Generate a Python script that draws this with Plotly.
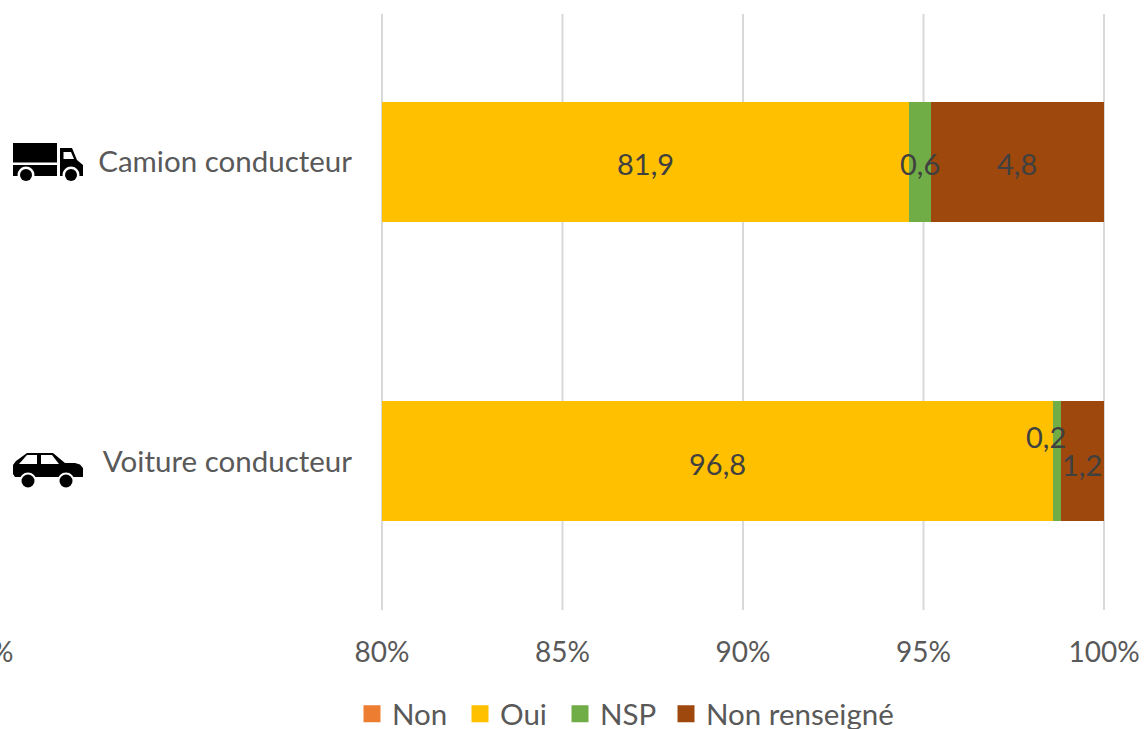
import plotly.graph_objects as go

WIDTH, HEIGHT = 1146, 729
LEFT, RIGHT, TOP, BOTTOM = 382, 1104, 12, 611
FONT = "Lato"
TEXT = "#595959"
VALUE_TEXT = "#404040"
GRID = "#D9D9D9"

categories = ["Voiture conducteur", "Camion conducteur"]
series_names = ["Non", "Oui", "NSP", "Non renseigné"]
series_colors = ["#ED7D31", "#FFC000", "#70AD47", "#9E480E"]
legend_widths = [63, 55, 61, 195]
non_values = [1.8, 12.7]
oui_values = [96.8, 81.9]
nsp_values = [0.2, 0.6]
renseigne_values = [1.2, 4.8]
all_series = [non_values, oui_values, nsp_values, renseigne_values]
x_ticks = [80, 85, 90, 95, 100]
x_tick_labels = ["80%", "85%", "90%", "95%", "100%"]
AXIS_MIN, AXIS_MAX = 80, 100

# Label nudges in pixels, keyed by (series, category): some labels sit off-centre.
label_nudges = {(2, 0): (-11, 27), (3, 0): (0, -1)}


def px(x):
    return (x - LEFT) / (RIGHT - LEFT)


def py(y):
    return (BOTTOM - y) / (BOTTOM - TOP)


def poly(points, color):
    d = "M" + " L".join(f"{px(a):.5f},{py(b):.5f}" for a, b in points) + " Z"
    return dict(type="path", xref="paper", yref="paper", path=d,
                fillcolor=color, line_width=0, layer="above")


def disc(cx, cy, r, color):
    return dict(type="circle", xref="paper", yref="paper",
                x0=px(cx - r), x1=px(cx + r), y0=py(cy + r), y1=py(cy - r),
                fillcolor=color, line_width=0, layer="above")


fig = go.Figure()
for name, color, values in zip(series_names, series_colors, all_series):
    fig.add_trace(go.Bar(name=name, y=categories, x=values, orientation="h",
                         showlegend=False, marker=dict(color=color, line_width=0)))

# Empty companions carry the legend entries, with a stroke that makes the swatches larger.
for name, color, entry_width in zip(series_names, series_colors, legend_widths):
    fig.add_trace(go.Bar(name=name, y=categories, x=[None, None], orientation="h",
                         hoverinfo="skip", legendwidth=entry_width,
                         marker=dict(color=color, line=dict(color=color, width=5))))

# Value labels follow the stacked segments, centred on the part inside the axis range.
annotations = []
for c, cat in enumerate(categories):
    start = 0
    for s, values in enumerate(all_series):
        end = start + values[c]
        if s > 0:
            nudge = label_nudges.get((s, c), (0, 0))
            centre = (max(start, AXIS_MIN) + min(end, AXIS_MAX)) / 2
            annotations.append(dict(
                x=centre, y=cat, xref="x", yref="y", showarrow=False,
                text=f"{values[c]:.1f}".replace(".", ","),
                xshift=nudge[0], yshift=nudge[1] - 2,
                font=dict(family=FONT, size=29, color=VALUE_TEXT)))
        start = end

# Tail of a tick label cut off by the left edge
annotations.append(dict(x=px(15), y=py(651), xref="paper", yref="paper", showarrow=False,
                        xanchor="right", yanchor="middle", text="%",
                        font=dict(family=FONT, size=28, color=TEXT)))

# Gridlines stop just short of the plot's full height and include both range ends
shapes = [
    dict(type="line", xref="paper", yref="paper",
         x0=(t - AXIS_MIN) / (AXIS_MAX - AXIS_MIN), x1=(t - AXIS_MIN) / (AXIS_MAX - AXIS_MIN),
         y0=py(14), y1=py(610), line=dict(color=GRID, width=2), layer="below")
    for t in x_ticks
]

# Truck and car pictograms beside the category labels
shapes += [
    poly([(13, 143), (57, 143), (57, 162.5), (13, 162.5)], "black"),
    poly([(13, 165), (57, 165), (57, 176), (13, 176)], "black"),
    poly([(60, 148), (72, 148), (77, 160), (83, 165), (83, 176), (60, 176)], "black"),
    poly([(63.5, 152), (71, 152), (74, 159), (63.5, 159)], "white"),
    disc(26, 175, 8.5, "white"), disc(26, 175, 6, "black"),
    disc(71, 175, 8.5, "white"), disc(71, 175, 6, "black"),
    poly([(13, 465), (16, 461), (27, 453), (53, 453), (65, 463), (75, 463), (80, 464.5),
          (83, 468), (83, 477), (15, 477), (13, 474)], "black"),
    poly([(19, 464), (27, 455), (37, 455), (37, 464)], "white"),
    poly([(41, 455), (52, 455), (59, 464), (41, 464)], "white"),
    disc(28, 481, 8.5, "white"), disc(28, 481, 6.5, "black"),
    disc(66, 481, 8.5, "white"), disc(66, 481, 6.5, "black"),
]

fig.update_layout(
    width=WIDTH, height=HEIGHT, autosize=False,
    margin=dict(l=LEFT, r=WIDTH - RIGHT, t=TOP, b=HEIGHT - BOTTOM, pad=0),
    paper_bgcolor="white", plot_bgcolor="white",
    barmode="stack", bargap=0.6,
    font=dict(family=FONT, size=28, color=TEXT),
    annotations=annotations, shapes=shapes,
    showlegend=True,
    legend=dict(orientation="h", x=352 / WIDTH, xanchor="left", xref="container",
                y=15 / HEIGHT, yanchor="middle", yref="container", traceorder="normal",
                font=dict(family=FONT, size=29.5, color=TEXT), itemclick=False),
    xaxis=dict(range=[AXIS_MIN, AXIS_MAX], tickvals=x_ticks, ticktext=x_tick_labels,
               showgrid=False, zeroline=False,
               showline=False, ticks="", ticklabelstandoff=22, automargin=False,
               tickfont=dict(family=FONT, size=28, color=TEXT)),
    yaxis=dict(type="category", categoryorder="array", categoryarray=categories,
               showgrid=False, showline=False, ticks="", ticklabelstandoff=29,
               automargin=False, tickfont=dict(family=FONT, size=29.5, color=TEXT)),
)

fig.write_html("out.html")
